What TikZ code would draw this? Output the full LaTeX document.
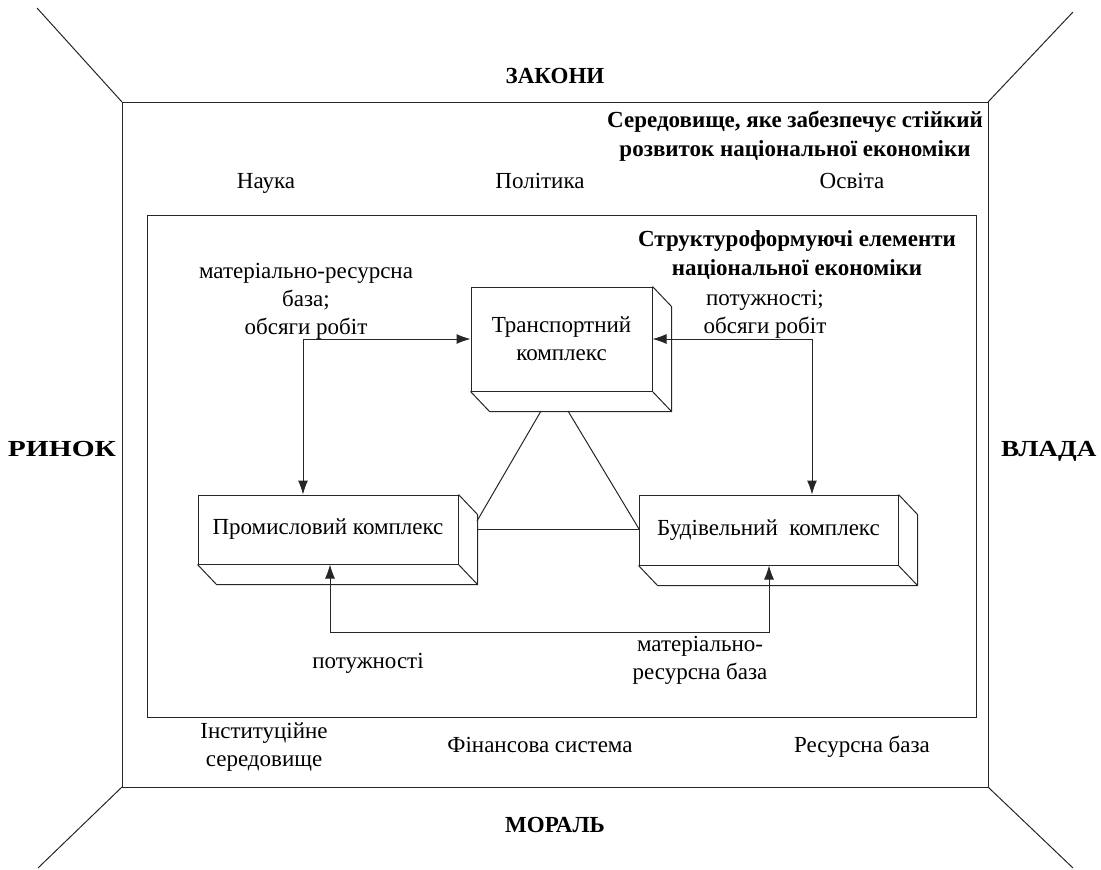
\documentclass[tikz,border=0pt]{standalone}
\usepackage{fontspec}
\setmainfont{Liberation Serif}
\usetikzlibrary{arrows.meta,calc}
\begin{document}
\begin{tikzpicture}[x=1pt,y=-1pt,
  line/.style={draw=black!85,line width=1pt},
  txt/.style={font=\fontsize{23}{28}\selectfont,inner sep=0pt,align=center},
  one/.style={txt,text height=16pt,text depth=5pt},
  hd/.style={font=\fontsize{23}{29}\selectfont\bfseries,inner sep=0pt,align=center},
  hdone/.style={hd,text height=16pt,text depth=5pt},
  face/.style={line,fill=white,inner sep=0pt,align=center,font=\fontsize{23}{28}\selectfont},
  arr/.style={line,{Latex[length=14pt,width=10pt]}-{Latex[length=14pt,width=10pt]}}]
\useasboundingbox (0,0) rectangle (1101,870);
\clip (0,0) rectangle (1101,870);

% outer frame and perspective lines
\coordinate (otl) at (122,102);
\coordinate (otr) at (988,102);
\coordinate (obl) at (122,787);
\coordinate (obr) at (988,787);
\draw[line] (otl) rectangle (obr);
\coordinate (ctl) at (37,8);
\coordinate (ctr) at (1073,12);
\coordinate (cbl) at (38,868);
\coordinate (cbr) at (1073,868);
\draw[line] (otl) -- (ctl);
\draw[line] (otr) -- (ctr);
\draw[line] (obl) -- (cbl);
\draw[line] (obr) -- (cbr);

% inner frame
\coordinate (itl) at (147,215);
\coordinate (ibr) at (976,717);
\draw[line] (itl) rectangle (ibr);

% boxes (front faces)
\node[face,minimum width=181pt,minimum height=104pt] (tr) at (561.5,339) {Транспортний\\комплекс};
\node[face,minimum width=260pt,minimum height=69pt] (pr) at (328,529.5) {Промисловий комплекс};
\node[face,minimum width=259pt,minimum height=70pt] (bu) at (768.5,530) {Будівельний\ \ комплекс};

% depth of boxes
\foreach \b in {tr,pr,bu}{
  \draw[line] (\b.north east) -- ($(\b.north east)+(19,20)$) -- ($(\b.south east)+(19,20)$) -- ($(\b.south west)+(19,20)$) -- (\b.south west);
  \draw[line] (\b.south east) -- ($(\b.south east)+(19,20)$);
}

% triangle
\coordinate (t1) at (541,411);
\coordinate (t2) at (568,411);
\coordinate (p1) at (477,521);
\coordinate (p2) at (477,529);
\coordinate (b1) at (639,529);
\draw[line] (t1) -- (p1);
\draw[line] (t2) -- (b1);
\draw[line] (p2) -- (b1);

% arrows
\coordinate (c1) at (303,339);
\coordinate (c2) at (812,339);
\coordinate (c3) at (330,632);
\coordinate (c4) at (769,632);
\draw[arr] (tr.west) -- (c1) -- (c1 |- pr.north);
\draw[arr] (tr.east) -- (c2) -- (c2 |- bu.north);
\draw[arr] (c3 |- pr.south) -- (c3) -- (c4) -- (c4 |- bu.south);

% labels
\node[hdone] (zak) at (555,78) {ЗАКОНИ};
\node[hdone] (mor) at (555,827) {МОРАЛЬ};
\node[hdone] (rin) at (62,451) {\scalebox{1.28}[1]{РИНОК}};
\node[hdone,anchor=west] (vla) at (1001,451) {\scalebox{1.18}[1]{ВЛАДА}};
\node[hd] (ser) at (795,136) {Середовище, яке забезпечує стійкий\\розвиток національної економіки};
\node[hd] (str) at (797,255) {Структуроформуючі елементи\\національної економіки};
\node[one] (nau) at (266,183) {Наука};
\node[one] (pol) at (540,183) {Політика};
\node[one] (osv) at (852,183) {Освіта};
\node[txt] (l1) at (306,301) {матеріально-ресурсна\\база;\\обсяги робіт};
\node[txt] (l2) at (765,314) {потужності;\\обсяги робіт};
\node[one] (l3) at (368,663) {потужності};
\node[txt] (l4) at (700,660) {матеріально-\\ресурсна база};
\node[txt] (ins) at (264,747) {Інституційне\\середовище};
\node[one] (fin) at (540,747) {Фінансова система};
\node[one] (res) at (862,747) {Ресурсна база};
\end{tikzpicture}
\end{document}
